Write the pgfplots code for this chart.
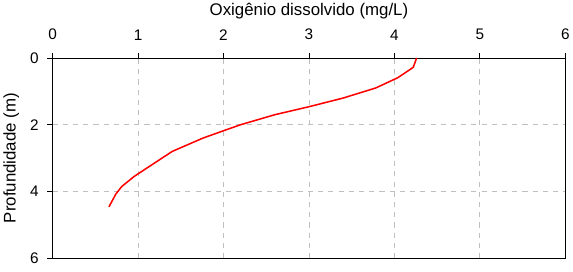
\documentclass[border=0pt]{standalone}
\usepackage{pgfplots}
\pgfplotsset{compat=1.18}
\usepackage{fontspec}
\setmainfont{Liberation Sans}
\begin{document}
\begin{tikzpicture}
\begin{axis}[
  width=502pt, height=196pt, scale only axis,
  xmin=0, xmax=6, ymin=-6, ymax=0,
  xtick={0,1,2,3,4,5,6}, ytick={-6,-4,-2,0},
  yticklabels={6,4,2,0},
  axis x line*=top, axis y line*=left,
  tick align=outside,
  major tick length=5pt,
  axis line style={-, black, line width=0.8pt},
  xtick style={black, line width=0.8pt, solid},
  ytick style={black, line width=0.8pt, solid},
  grid=major,
  major grid style={gray!50, dash pattern=on 5pt off 5pt, line width=0.8pt},
  xlabel={Oxigênio dissolvido (mg/L)},
  ylabel={Profundidade (m)},
  label style={font=\fontsize{16.5}{18}\selectfont},
  tick label style={font=\fontsize{15}{17}\selectfont},
  xticklabel style={yshift=9pt},
  yticklabel style={xshift=-5pt},
  xlabel style={yshift=3pt},
  ylabel style={yshift=4pt},
  /pgf/number format/assume math mode=true,
  clip=false,
  after end axis/.code={
    \draw[black, line width=0.8pt] (rel axis cs:1,1) -- (rel axis cs:1,0) -- (rel axis cs:0,0);
  },
]
\addplot[red, line width=1.5pt] table[x=od, y expr=-\thisrow{depth}] {
od depth
4.26 0
4.22 0.28
4.04 0.59
3.78 0.90
3.40 1.20
3.00 1.46
2.60 1.70
2.20 2.00
2.00 2.18
1.76 2.40
1.40 2.80
0.96 3.54
0.81 3.85
0.74 4.08
0.66 4.46
};
\end{axis}
\path (current axis.south west) ++(0,-13pt);
\end{tikzpicture}
\end{document}
